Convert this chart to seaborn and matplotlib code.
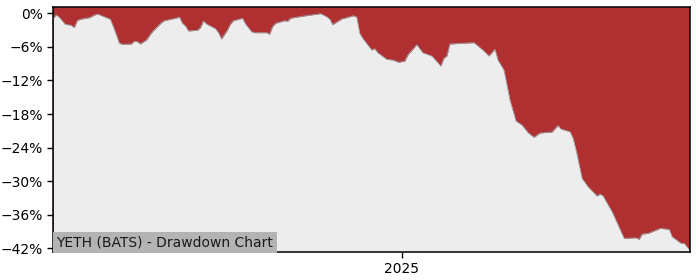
import matplotlib
matplotlib.use("Agg")
import matplotlib.pyplot as plt
import matplotlib.dates as mdates
from matplotlib.ticker import MultipleLocator, FuncFormatter
import seaborn as sns
import pandas as pd

title_text = "YETH (BATS) - Drawdown Chart"

dates = [
    "2024-09-07", "2024-09-08", "2024-09-09", "2024-09-11", "2024-09-13", "2024-09-14",
    "2024-09-15", "2024-09-16", "2024-09-19", "2024-09-21", "2024-09-22", "2024-09-26",
    "2024-09-27", "2024-09-29", "2024-09-30", "2024-10-03", "2024-10-04", "2024-10-05",
    "2024-10-06", "2024-10-08", "2024-10-10", "2024-10-13", "2024-10-14", "2024-10-17",
    "2024-10-19", "2024-10-20", "2024-10-21", "2024-10-22", "2024-10-25", "2024-10-26",
    "2024-10-27", "2024-10-28", "2024-10-31", "2024-11-01", "2024-11-02", "2024-11-04",
    "2024-11-05", "2024-11-06", "2024-11-09", "2024-11-10", "2024-11-12", "2024-11-13",
    "2024-11-17", "2024-11-18", "2024-11-19", "2024-11-20", "2024-11-23", "2024-11-24",
    "2024-11-25", "2024-11-28", "2024-12-01", "2024-12-05", "2024-12-07", "2024-12-08",
    "2024-12-09", "2024-12-10", "2024-12-12", "2024-12-16", "2024-12-17", "2024-12-18",
    "2024-12-19", "2024-12-22", "2024-12-23", "2024-12-24", "2024-12-27", "2024-12-29",
    "2024-12-31", "2025-01-02", "2025-01-03", "2025-01-06", "2025-01-08", "2025-01-11",
    "2025-01-14", "2025-01-15", "2025-01-16", "2025-01-17", "2025-01-21", "2025-01-25",
    "2025-01-28", "2025-01-30", "2025-02-01", "2025-02-02", "2025-02-04", "2025-02-06",
    "2025-02-08", "2025-02-10", "2025-02-12", "2025-02-14", "2025-02-16", "2025-02-20",
    "2025-02-22", "2025-02-23", "2025-02-26", "2025-02-27", "2025-02-28", "2025-03-02",
    "2025-03-04", "2025-03-07", "2025-03-08", "2025-03-09", "2025-03-12", "2025-03-16",
    "2025-03-20", "2025-03-21", "2025-03-22", "2025-03-24", "2025-03-28", "2025-03-31",
    "2025-04-01", "2025-04-04", "2025-04-05", "2025-04-07",
]

drawdown_pct = [
    -0.89, -0.30, -0.71, -1.97, -2.14, -2.57,
    -1.32, -1.07, -0.79, -0.25, -0.18, -1.07,
    -2.39, -5.36, -5.54, -5.49, -5.00, -5.08,
    -5.49, -4.77, -3.29, -1.68, -1.32, -0.97,
    -0.71, -1.79, -2.27, -3.16, -3.04, -2.57,
    -1.38, -1.91, -2.75, -3.47, -4.59, -2.98,
    -1.91, -1.32, -0.89, -1.91, -3.29, -3.47,
    -3.47, -3.75, -2.39, -1.79, -1.32, -1.43,
    -0.89, -0.61, -0.36, -0.07, -0.61, -1.02,
    -2.04, -1.68, -1.02, -0.43, -0.71, -3.57,
    -4.47, -6.56, -6.33, -7.04, -8.22, -8.35,
    -8.76, -8.53, -7.45, -5.61, -7.04, -7.63,
    -9.42, -8.04, -7.63, -5.49, -5.36, -5.25,
    -6.56, -7.63, -6.43, -8.35, -10.13, -15.50,
    -19.25, -19.96, -21.30, -22.16, -21.39, -21.22,
    -20.05, -20.68, -21.16, -22.34, -24.43, -29.49,
    -30.99, -32.65, -32.30, -32.65, -35.46, -40.21,
    -40.11, -40.39, -39.45, -39.32, -38.43, -38.61,
    -39.93, -41.11, -41.11, -42.43,
]

y_tick_step = 6

df = pd.DataFrame({"date": pd.to_datetime(dates), "dd": drawdown_pct})

sns.set_style("ticks")
plt.rcParams["font.family"] = ["DejaVu Sans"]

fig = plt.figure(figsize=(7, 2.8), dpi=100)
ax = fig.add_axes([0.076, 0.1, 0.91, 0.874])

red = "#b03031"
grey_bg = "#ededed"
ax.set_facecolor(red)

ymin, ymax = -42.65, 1.07
ax.fill_between(df["date"], df["dd"], ymin - 5, color=grey_bg, linewidth=0, zorder=1)
sns.lineplot(data=df, x="date", y="dd", ax=ax, color="#9aa0a2", linewidth=0.6, zorder=2)

ax.set_xlim(df["date"].iloc[0], df["date"].iloc[-1])
ax.set_ylim(ymin, ymax)
ax.yaxis.set_major_locator(MultipleLocator(y_tick_step))
ax.yaxis.set_major_formatter(FuncFormatter(lambda v, p: f"{v:.0f}%".replace("-", "\u2212")))
ax.xaxis.set_major_locator(mdates.YearLocator())
ax.xaxis.set_major_formatter(mdates.DateFormatter("%Y"))
ax.set_xlabel("")
ax.set_ylabel("")
ax.tick_params(axis="both", labelsize=10, length=4, width=1, colors="black")
for s in ax.spines.values():
    s.set_visible(True)
    s.set_color("black")
    s.set_linewidth(1.1)

ax.text(0.005, 0.012, title_text, transform=ax.transAxes, fontsize=10,
        color="#1a1a1a", ha="left", va="bottom", zorder=5,
        bbox=dict(facecolor="#b3b3b3", edgecolor="none", pad=2.5))

fig.savefig("out.png", dpi=100)
